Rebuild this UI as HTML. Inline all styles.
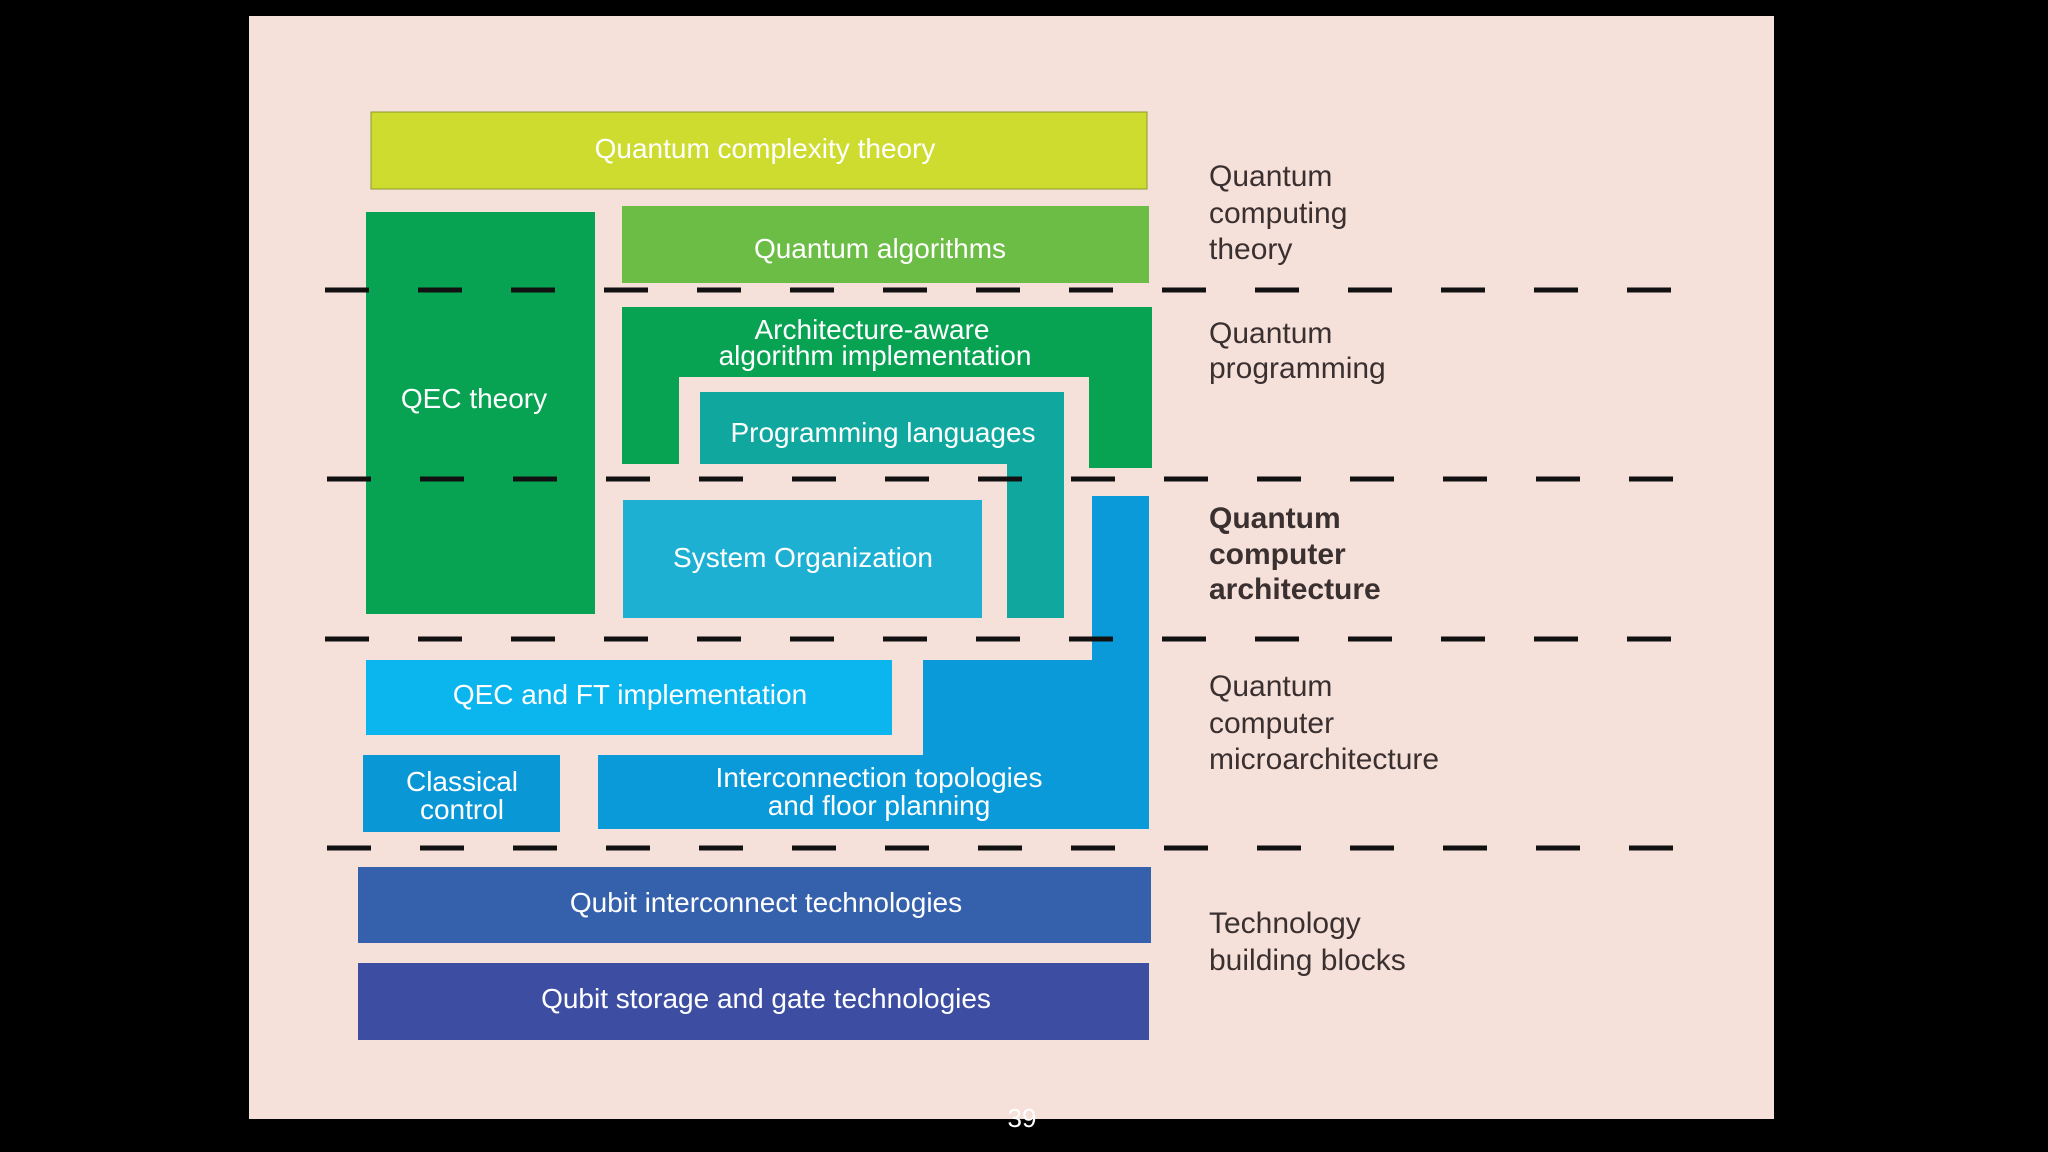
<!DOCTYPE html>
<html><head><meta charset="utf-8"><style>
html,body{margin:0;padding:0;background:#000;}
svg{display:block;}
.b{font-family:"Liberation Sans",sans-serif;font-size:28px;fill:#fff;text-anchor:middle;}
.l{font-family:"Liberation Sans",sans-serif;font-size:30px;fill:#3a3030;}
</style></head><body>
<svg width="2048" height="1152" viewBox="0 0 2048 1152" xmlns="http://www.w3.org/2000/svg">
<rect width="2048" height="1152" fill="#000"/>
<rect x="249" y="16" width="1525" height="1103" fill="#f6e0da"/>
<rect x="371" y="112" width="776" height="77" fill="#cddc2f" stroke="#8a9a2a" stroke-width="1"/>
<rect x="366" y="212" width="229" height="402" fill="#07a352"/>
<rect x="622" y="206" width="527" height="77" fill="#6cbd45"/>
<polygon points="622,307 1152,307 1152,468 1089,468 1089,377 679,377 679,464 622,464" fill="#07a352"/>
<polygon points="700,392 1064,392 1064,618 1007,618 1007,464 700,464" fill="#10a89e"/>
<rect x="623" y="500" width="359" height="118" fill="#1eb0d3"/>
<polygon points="1092,496 1149,496 1149,829 598,829 598,755 923,755 923,660 1092,660" fill="#0a9ad9"/>
<rect x="366" y="660" width="526" height="75" fill="#0bb5ee"/>
<rect x="363" y="755" width="197" height="77" fill="#0a97d6"/>
<rect x="358" y="867" width="793" height="76" fill="#3560ab"/>
<rect x="358" y="963" width="791" height="77" fill="#3c4da2"/>
<g stroke="#111" stroke-width="5" stroke-dasharray="44 49">
<line x1="325" y1="290" x2="1676" y2="290"/>
<line x1="327" y1="479" x2="1676" y2="479"/>
<line x1="325" y1="639" x2="1676" y2="639"/>
<line x1="327" y1="848" x2="1676" y2="848"/>
</g>
<text class="b" x="765" y="158">Quantum complexity theory</text>
<text class="b" x="880" y="258">Quantum algorithms</text>
<text class="b" x="474" y="408">QEC theory</text>
<text class="b" x="872" y="339">Architecture-aware</text>
<text class="b" x="875" y="365">algorithm implementation</text>
<text class="b" x="883" y="442">Programming languages</text>
<text class="b" x="803" y="567">System Organization</text>
<text class="b" x="630" y="704">QEC and FT implementation</text>
<text class="b" x="462" y="791">Classical</text>
<text class="b" x="462" y="819">control</text>
<text class="b" x="879" y="787">Interconnection topologies</text>
<text class="b" x="879" y="815">and floor planning</text>
<text class="b" x="766" y="912">Qubit interconnect technologies</text>
<text class="b" x="766" y="1008">Qubit storage and gate technologies</text>
<text class="l" x="1209" y="186">Quantum</text>
<text class="l" x="1209" y="223">computing</text>
<text class="l" x="1209" y="259">theory</text>
<text class="l" x="1209" y="343">Quantum</text>
<text class="l" x="1209" y="378">programming</text>
<text class="l" x="1209" y="528" font-weight="bold" fill="#222">Quantum</text>
<text class="l" x="1209" y="564" font-weight="bold" fill="#222">computer</text>
<text class="l" x="1209" y="599" font-weight="bold" fill="#222">architecture</text>
<text class="l" x="1209" y="696">Quantum</text>
<text class="l" x="1209" y="733">computer</text>
<text class="l" x="1209" y="769">microarchitecture</text>
<text class="l" x="1209" y="933">Technology</text>
<text class="l" x="1209" y="970">building blocks</text>
<text x="1022" y="1127" font-family="Liberation Sans,sans-serif" font-size="26" fill="#fff" text-anchor="middle">39</text>
</svg>
</body></html>
